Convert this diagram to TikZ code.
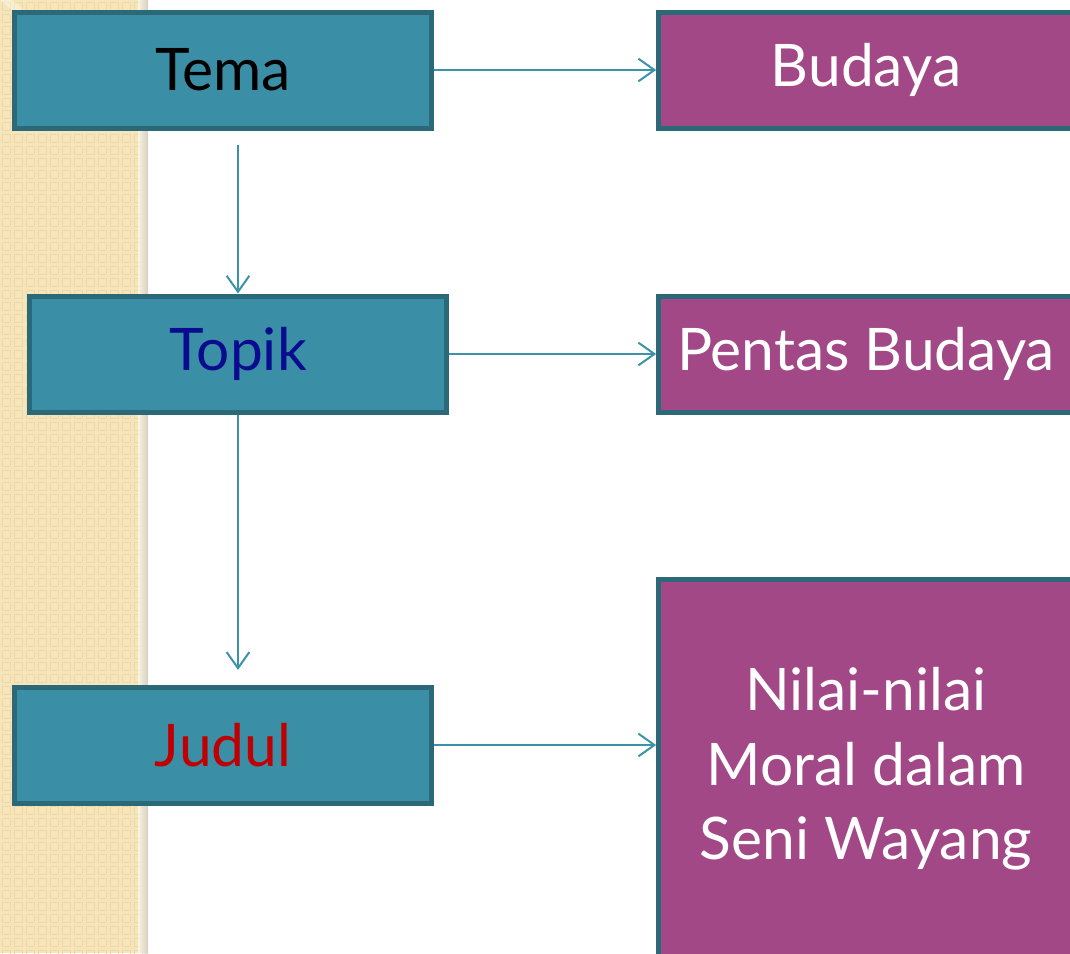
\documentclass[tikz,border=0pt]{standalone}
\usepackage{fontspec}
\setmainfont{Lato}
\usetikzlibrary{arrows.meta}
\definecolor{tealfill}{HTML}{3A8FA7}
\definecolor{tealedge}{HTML}{2B6978}
\definecolor{magfill}{HTML}{A24887}
\definecolor{arrowc}{HTML}{3B93AA}
\definecolor{beige}{HTML}{F6E5B9}
\definecolor{beigedark}{HTML}{ECDAAE}
\definecolor{topikblue}{HTML}{0B0B8F}
\definecolor{juduldark}{HTML}{C00000}
\tikzset{
  tealbox/.style={draw=tealedge, fill=tealfill, line width=3.75pt, inner sep=0pt,
    minimum width=313pt, minimum height=87pt, font=\fontsize{44}{54}\selectfont},
  magbox/.style={draw=tealedge, fill=magfill, line width=3.75pt, inner sep=0pt,
    minimum width=311pt, text=white, align=center, font=\fontsize{44}{56}\selectfont},
  arr/.style={draw=arrowc, line width=1.5pt, -{Straight Barb[length=12pt,width=17pt,line width=1.5pt]}}
}
\begin{document}
\begin{tikzpicture}[x=0.75pt,y=-0.75pt]
\useasboundingbox (0,0) rectangle (1070,953);
\clip (0,0) rectangle (1070,953);
\fill[white] (0,0) rectangle (1070,953);
% left textured strip
\fill[beige] (0,0) rectangle (148,953);
\foreach \i in {0,...,11}{
  \foreach \j in {0,...,79}{
    \draw[beigedark, line width=0.7pt] (\i*12+2,\j*12+2) rectangle ++(8,8);
  }
}
\shade[left color=beige!0, right color=black!25, opacity=0.6] (138,0) rectangle (148,953);
\fill[white, opacity=0.35] (0,0) -- (12,0) -- (28,14) -- (22,18) -- cycle;
% nodes
\node[tealbox] (tema) at (223,70) {Tema};
\node[tealbox, text=topikblue] (topik) at (238,354) {Topik};
\node[tealbox, text=juduldark] (judul) at (223,745) {Judul};
\node[magbox, minimum height=87pt] (budaya) at (866,70) {Budaya};
\node[magbox, minimum height=87pt] (pentas) at (866,354) {Pentas Budaya};
\node[magbox, minimum height=284pt] (nilai) at (866,769) {Nilai-nilai\\Moral dalam\\Seni Wayang};
% connectors
\draw[arr] (tema.east) -- (budaya.west);
\draw[arr] (topik.east) -- (pentas.west);
\draw[arr] (judul.east) -- (judul.east -| nilai.west);
\draw[arr] ([yshift=-11pt]tema.south -| topik.north) -- (topik.north);
\draw[arr] (topik.south) -- ([yshift=11pt]judul.north -| topik.south);
\end{tikzpicture}
\end{document}
